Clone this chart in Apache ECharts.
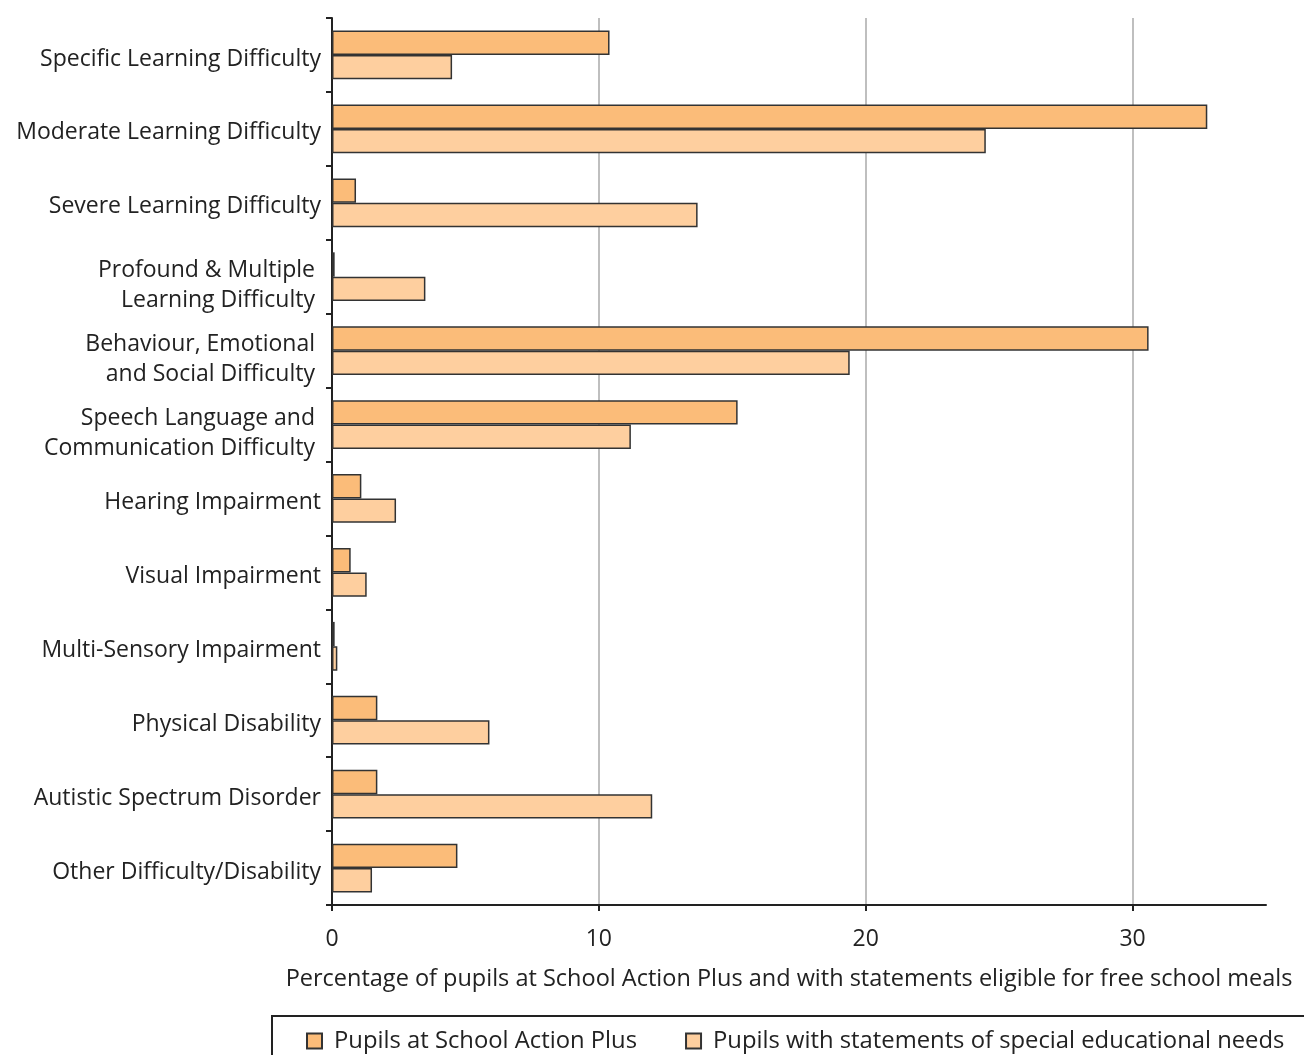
<!DOCTYPE html>
<html>
<head>
<meta charset="utf-8">
<script src="https://cdn.jsdelivr.net/npm/echarts@6/dist/echarts.min.js"></script>
<style>
  html, body { margin: 0; padding: 0; background: #fff; }
  #chart { width: 1304px; height: 1055px; }
</style>
</head>
<body>
<div id="chart"></div>
<script>
// Categories of special educational need, listed top to bottom
const categories = [
  'Specific Learning Difficulty',
  'Moderate Learning Difficulty',
  'Severe Learning Difficulty',
  'Profound & Multiple\nLearning Difficulty',
  'Behaviour, Emotional\nand Social Difficulty',
  'Speech Language and\nCommunication Difficulty',
  'Hearing Impairment',
  'Visual Impairment',
  'Multi-Sensory Impairment',
  'Physical Disability',
  'Autistic Spectrum Disorder',
  'Other Difficulty/Disability'
];

// Percentage eligible for free school meals
const actionPlus = [10.4, 32.8, 0.9, 0.1, 30.6, 15.2, 1.1, 0.7, 0.1, 1.7, 1.7, 4.7];
const statements = [4.5, 24.5, 13.7, 3.5, 19.4, 11.2, 2.4, 1.3, 0.2, 5.9, 12.0, 1.5];

const seriesNames = ['Pupils at School Action Plus', 'Pupils with statements of special educational needs'];
const xTicks = [0, 10, 20, 30];
const xAxisTitle = 'Percentage of pupils at School Action Plus and with statements eligible for free school meals';

const FONT = '"Open Sans", "Liberation Sans", sans-serif';
const chart = echarts.init(document.getElementById('chart'), null, { renderer: 'canvas' });

chart.setOption({
  backgroundColor: '#ffffff',
  animation: false,
  textStyle: { fontFamily: FONT },
  grid: { left: 332, right: 38, top: 18, bottom: 150, containLabel: false },
  legend: {
    left: 272,
    top: 1016,
    width: 1200,
    orient: 'horizontal',
    icon: 'rect',
    itemWidth: 15,
    itemHeight: 15,
    itemGap: 48,
    padding: [13, 60, 30, 34],
    borderColor: '#222',
    borderWidth: 2,
    textStyle: { fontFamily: FONT, fontSize: 23.8, color: '#222', padding: [0, 0, 0, 7] },
    data: seriesNames
  },
  xAxis: {
    type: 'value',
    min: 0,
    max: 35,
    interval: 10,
    name: xAxisTitle,
    nameLocation: 'middle',
    nameGap: 62,
    nameTextStyle: { fontFamily: FONT, fontSize: 23.5, color: '#222', padding: [0, 20, 0, 0] },
    axisLine: { show: true, lineStyle: { color: '#222', width: 2 } },
    axisTick: { show: true, length: 6, lineStyle: { color: '#222', width: 2 }, customValues: xTicks },
    axisLabel: { fontFamily: FONT, fontSize: 23, color: '#222', margin: 23, customValues: xTicks },
    splitLine: { show: true, lineStyle: { color: '#aaaaaa', width: 1.5 } }
  },
  yAxis: {
    type: 'category',
    inverse: true,
    data: categories,
    axisLine: { show: true, lineStyle: { color: '#222', width: 2 } },
    axisTick: { show: true, length: 6, lineStyle: { color: '#222', width: 2 } },
    axisLabel: {
      fontFamily: FONT,
      fontSize: 23,
      color: '#222',
      margin: 11,
      lineHeight: 30,
      formatter: function (v) {
        if (v.indexOf('\n') < 0) return '{s|' + v + '}';
        const lines = v.split('\n');
        return '{m1|' + lines[0] + '}\n{m|' + lines[1] + '}';
      },
      rich: {
        s: { fontFamily: FONT, fontSize: 23, color: '#222', padding: [8, 0, 0, 0] },
        m1: { fontFamily: FONT, fontSize: 23, color: '#222', lineHeight: 48, padding: [18, 6, 0, 0] },
        m: { fontFamily: FONT, fontSize: 23, color: '#222', lineHeight: 30, padding: [0, 6, 0, 0] }
      }
    },
    splitLine: { show: false }
  },
  series: [
    {
      name: seriesNames[0],
      type: 'bar',
      data: actionPlus,
      barGap: '0%',
      barCategoryGap: '34%',
      itemStyle: { color: '#fbbc79', borderColor: '#333', borderWidth: 1.5 }
    },
    {
      name: seriesNames[1],
      type: 'bar',
      data: statements,
      barGap: '0%',
      barCategoryGap: '34%',
      itemStyle: { color: '#fecf9f', borderColor: '#333', borderWidth: 1.5 }
    }
  ]
});
</script>
</body>
</html>
